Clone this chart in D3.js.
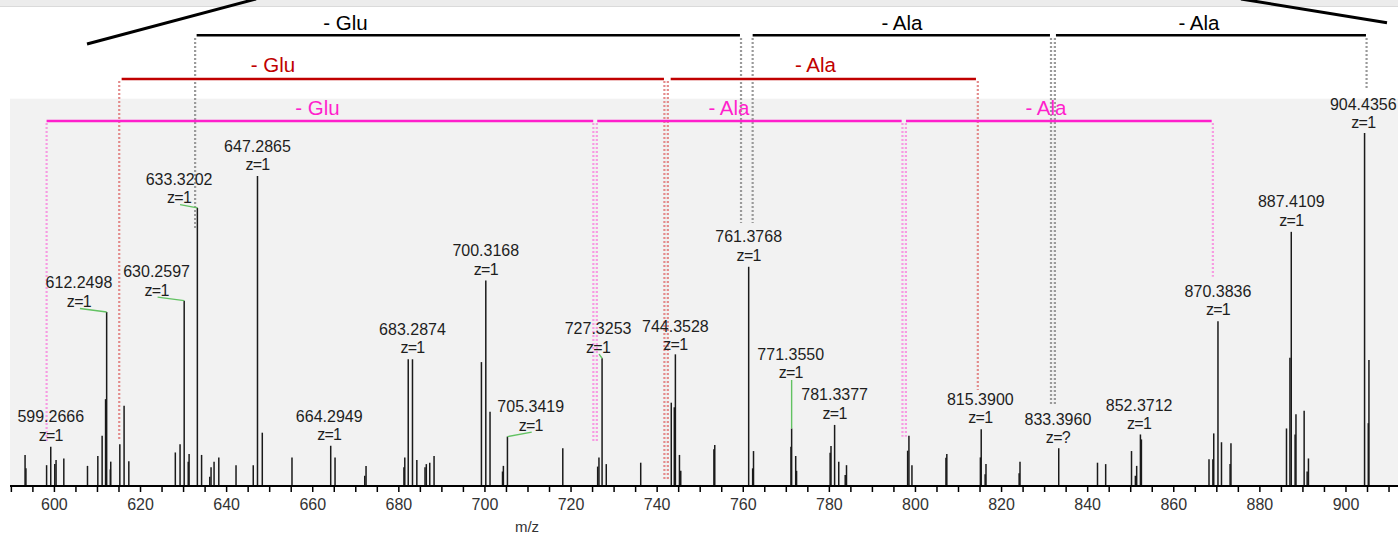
<!DOCTYPE html>
<html>
<head>
<meta charset="utf-8">
<script src="https://cdn.jsdelivr.net/npm/d3@7"></script>
<style>
  html, body { margin: 0; padding: 0; background: #fff; }
  svg { display: block; }
  text { font-family: "Liberation Sans", Arial, sans-serif; }
</style>
</head>
<body>
<svg id="chart" width="1398" height="536"></svg>
<script>
// ---- spectrum: centroid peaks (m/z, relative intensity %) ----
const peakMz = [
  593.3, 593.5, 598.3, 599.2666, 600.2, 600.5, 602.3, 607.8, 610.2, 611.2, 612.0, 612.2498,
  613.1, 613.2, 615.31, 616.3, 617.4, 628.2, 629.3, 630.2597, 631.2, 631.4, 633.3202, 634.3,
  636.2, 636.5, 637.2, 638.3, 642.3, 646.3, 647.2865, 648.4, 655.3, 664.2949, 665.3, 672.2,
  672.5, 681.3, 681.5, 682.3, 683.2874, 684.3, 686.2, 686.5, 687.3, 688.3, 699.3, 700.3168,
  701.3, 704.2, 704.4, 705.3419, 718.2, 726.3, 726.6, 727.3253, 728.3, 736.3, 743.4, 744.1,
  744.3528, 745.3, 745.6, 753.3, 753.5, 761.3768, 762.3, 762.5, 771.2, 771.3550, 772.3, 772.5,
  780.3, 780.5, 781.3377, 782.3, 783.8, 784.1, 798.3, 798.6, 799.3, 807.2, 807.4, 815.2,
  815.3900, 816.3, 816.5, 824.2, 824.4, 833.3960, 842.4, 844.3, 850.3, 851.2, 851.5, 852.3712,
  852.6, 868.3, 869.2, 869.4, 870.3836, 871.2, 873.2, 873.4, 886.3, 887.1, 887.4109, 888.3,
  888.5, 890.4, 891.1, 891.4, 904.4356, 905.3, 905.45
];
const peakIntensity = [
  8.8, 5.0, 5.9, 11.1, 6.2, 7.4, 7.8, 5.7, 8.5, 14.2, 24.6, 49.3,
  4.7, 6.9, 11.8, 22.7, 7.0, 9.5, 11.8, 52.5, 6.9, 9.1, 78.8, 8.8,
  2.6, 5.3, 6.9, 8.1, 5.9, 5.9, 87.8, 15.1, 8.1, 11.4, 8.1, 2.9,
  5.7, 5.3, 8.1, 35.9, 35.9, 7.4, 5.3, 6.2, 6.6, 8.5, 35.1, 58.2,
  21.0, 4.1, 5.7, 14.0, 10.7, 5.5, 8.1, 36.2, 6.2, 6.6, 23.6, 22.3,
  37.3, 8.8, 4.3, 10.4, 11.6, 62.1, 5.0, 9.9, 11.1, 16.3, 8.5, 4.3,
  9.4, 11.3, 17.3, 6.9, 3.1, 5.9, 10.0, 14.2, 5.9, 8.0, 9.1, 8.1,
  16.1, 3.3, 6.2, 3.6, 6.9, 10.7, 6.6, 6.2, 9.9, 2.9, 5.7, 14.6,
  13.2, 7.6, 7.6, 14.9, 46.7, 12.4, 6.2, 12.1, 16.3, 36.3, 72.0, 14.6,
  20.3, 21.3, 4.1, 7.8, 100, 17.8, 35.7
];

// annotated peaks and their charge states
const labelMz = [
  599.2666, 612.2498, 630.2597, 633.3202, 647.2865, 664.2949, 683.2874, 700.3168, 705.3419,
  727.3253, 744.3528, 761.3768, 771.3550, 781.3377, 815.3900, 833.3960, 852.3712, 870.3836,
  887.4109, 904.4356
];
const labelCharge = [
  "1", "1", "1", "1", "1", "1", "1", "1", "1",
  "1", "1", "1", "1", "1", "1", "?", "1", "1",
  "1", "1"
];

// axis ticks
const tickStep = 5;
const tickLabelStep = 20;

// residue-loss ladders: interval in m/z and where its caption sits
const blackLadder = [
  { from: 633.15, to: 759.35, label: "- Glu", labelAt: 667.71 },
  { from: 762.30, to: 831.36, label: "- Ala", labelAt: 796.98 },
  { from: 832.75, to: 904.76, label: "- Ala", labelAt: 865.97 }
];
const redLadder = [
  { from: 615.73, to: 741.70, label: "- Glu", labelAt: 650.87 },
  { from: 743.26, to: 814.17, label: "- Ala", labelAt: 776.89 }
];
const pinkLadder = [
  { from: 598.30, to: 725.27, label: "- Glu", labelAt: 661.21 },
  { from: 726.20, to: 796.91, label: "- Ala", labelAt: 756.79 },
  { from: 797.91, to: 868.92, label: "- Ala", labelAt: 830.43 }
];

// ---- layout ----
const W = 1398, H = 536;
const plotLeft = 10, plotRight = 1398, baseY = 486, topY = 133, panelTop = 98.7;

// label offsets in px (dx, dy) for labels moved off their peak
const labelNudge = {
  "612.2498": [-27.7, 1], "630.2597": [-27.6, 1], "633.3202": [-18.3, 1.3],
  "705.3419": [23.3, 0], "727.3253": [-4, 0.4], "744.3528": [0, 1.7],
  "771.355": [-0.9, -44], "815.39": [-0.9, 0.3], "833.396": [-0.8, 1],
  "852.3712": [-1.3, 0.7], "904.4356": [-1.3, 1.3], "664.2949": [-1.5, 0.3]
};

// ladder drop lines: [m/z, bottom y px]
const blackDrops = [[632.8, 230], [759.6, 223], [762.3, 223], [831.6, 405], [832.5, 405], [904.9, 90]];
const redDrops = [[615.17, 440], [741.8, 480], [742.6, 480], [814.6, 390]];
const pinkDrops = [[598.3, 441.7], [725.3, 443], [726.1, 443], [797.1, 436.7], [797.9, 436.7], [869.2, 276.7]];

const ladderStyles = [
  { data: blackLadder, drops: blackDrops, lineY: 35.3, textY: 30, color: "#000000", dropColor: "#9a9a9a", dropTop: 38 },
  { data: redLadder, drops: redDrops, lineY: 79, textY: 71.7, color: "#c00000", dropColor: "#e38b8b", dropTop: 81 },
  { data: pinkLadder, drops: pinkDrops, lineY: 121, textY: 115, color: "#ff1fcc", dropColor: "#f79be2", dropTop: 123 }
];

const svg = d3.select("#chart");

const x = d3.scaleLinear().domain([589.8, 912.2]).range([plotLeft, plotRight]);
const y = d3.scaleLinear().domain([0, 100]).range([baseY, topY]);

// window edge at the very top
svg.append("rect").attr("x", 0).attr("y", 0).attr("width", W).attr("height", 6).attr("fill", "#ececec");
svg.append("line").attr("x1", 0).attr("x2", W).attr("y1", 6.5).attr("y2", 6.5)
  .attr("stroke", "#dadada").attr("stroke-width", 1);

// zoom callout lines
svg.append("line").attr("x1", 87).attr("y1", 44).attr("x2", 256).attr("y2", -1)
  .attr("stroke", "#000").attr("stroke-width", 3);
svg.append("line").attr("x1", 1241).attr("y1", -1).attr("x2", 1387).attr("y2", 22.7)
  .attr("stroke", "#000").attr("stroke-width", 3);

// plot panel
svg.append("rect").attr("x", plotLeft).attr("y", panelTop)
  .attr("width", plotRight - plotLeft).attr("height", baseY - panelTop).attr("fill", "#f2f2f2");

// peaks
const peaks = peakMz.map((m, i) => ({ mz: m, val: peakIntensity[i] }));
svg.append("g").selectAll("line").data(peaks).join("line")
  .attr("x1", d => x(d.mz)).attr("x2", d => x(d.mz))
  .attr("y1", baseY).attr("y2", d => y(d.val))
  .attr("stroke", "#1a1a1a").attr("stroke-width", 1.5);

// ladder drop lines (dotted) and brackets
ladderStyles.forEach(s => {
  svg.append("g").selectAll("line").data(s.drops).join("line")
    .attr("x1", d => x(d[0])).attr("x2", d => x(d[0]))
    .attr("y1", s.dropTop).attr("y2", d => d[1])
    .attr("stroke", s.dropColor).attr("stroke-width", 2.2)
    .attr("stroke-dasharray", "2,2");
});
ladderStyles.forEach(s => {
  const g = svg.append("g");
  g.selectAll("line").data(s.data).join("line")
    .attr("x1", d => x(d.from)).attr("x2", d => x(d.to))
    .attr("y1", s.lineY).attr("y2", s.lineY)
    .attr("stroke", s.color).attr("stroke-width", 2.6);
  g.selectAll("text").data(s.data).join("text")
    .attr("x", d => x(d.labelAt)).attr("y", s.textY)
    .attr("text-anchor", "middle").attr("font-size", 20.5)
    .attr("fill", s.color).text(d => d.label);
});

// peak annotations
const labels = labelMz.map((m, i) => {
  const idx = peakMz.indexOf(m);
  const top = y(peakIntensity[idx]);
  const nudge = labelNudge[String(m)] || [0, 0];
  return {
    mz: m, z: labelCharge[i], px: x(m), top,
    cx: x(m) + nudge[0], zy: top - 6 + nudge[1], moved: Math.abs(nudge[0]) > 3 || Math.abs(nudge[1]) > 10
  };
});
const lg = svg.append("g");
lg.selectAll("line").data(labels.filter(d => d.moved)).join("line")
  .attr("x1", d => Math.abs(d.cx - d.px) < 3 ? d.px : d.cx + 1).attr("y1", d => d.zy + 1.5)
  .attr("x2", d => d.px).attr("y2", d => d.top)
  .attr("stroke", "#62c262").attr("stroke-width", 1.4);
lg.selectAll("text.mz").data(labels).join("text").attr("class", "mz")
  .attr("x", d => d.cx).attr("y", d => d.zy - 18.5)
  .attr("text-anchor", "middle").attr("font-size", 16).attr("fill", "#1e1e1e")
  .text(d => d.mz.toFixed(4));
lg.selectAll("text.zz").data(labels).join("text").attr("class", "zz")
  .attr("x", d => d.cx).attr("y", d => d.zy)
  .attr("text-anchor", "middle").attr("font-size", 16).attr("fill", "#1e1e1e")
  .attr("letter-spacing", -0.7)
  .text(d => "z=" + d.z);

// x axis
const axis = d3.axisBottom(x)
  .tickValues(d3.range(590, 912.2, tickStep))
  .tickSize(6).tickSizeOuter(0).tickPadding(7)
  .tickFormat(d => d % tickLabelStep === 0 ? d : "");
const ax = svg.append("g").attr("transform", `translate(0,${baseY})`).call(axis);
ax.select(".domain").attr("stroke", "#000").attr("stroke-width", 2)
  .attr("d", `M${plotLeft},0H${plotRight}`);
ax.selectAll(".tick line").attr("stroke", "#000").attr("stroke-width", 1.5);
ax.selectAll(".tick text").attr("font-size", 16).attr("fill", "#333")
  .attr("font-family", "'Liberation Sans', Arial, sans-serif");

svg.append("text").attr("x", 527).attr("y", 531.5).attr("text-anchor", "middle")
  .attr("font-size", 15).attr("fill", "#333").text("m/z");
</script>
</body>
</html>
